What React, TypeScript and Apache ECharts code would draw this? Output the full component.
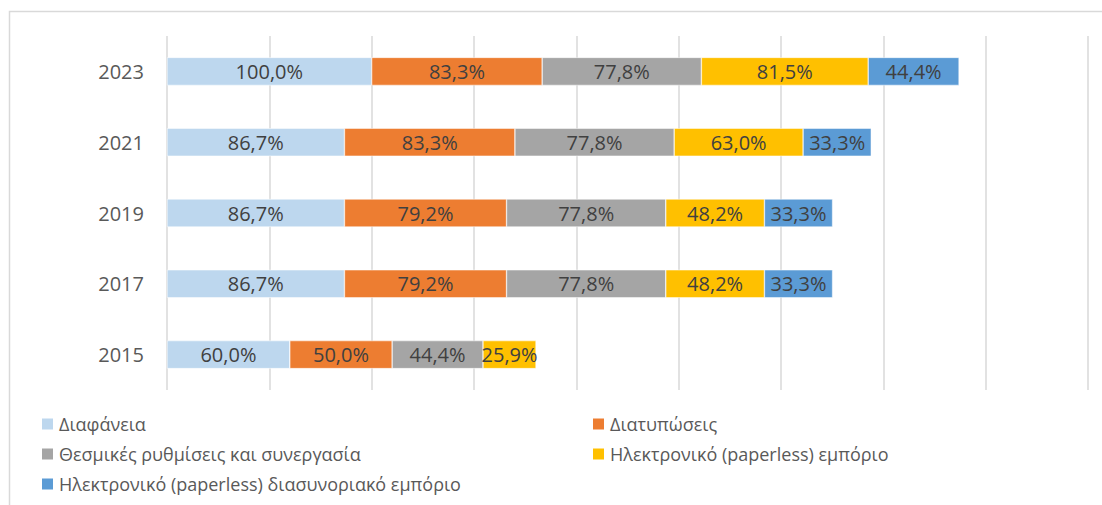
import React, { useEffect, useRef } from "react";
import * as echarts from "echarts";

const years = ["2015", "2017", "2019", "2021", "2023"];
const seriesNames = [
  "Διαφάνεια",
  "Διατυπώσεις",
  "Θεσμικές ρυθμίσεις και συνεργασία",
  "Ηλεκτρονικό (paperless) εμπόριο",
  "Ηλεκτρονικό (paperless) διασυνοριακό εμπόριο",
];
const transparency = [60.0, 86.7, 86.7, 86.7, 100.0];
const formalities = [50.0, 79.2, 79.2, 83.3, 83.3];
const institutional = [44.4, 77.8, 77.8, 77.8, 77.8];
const paperless = [25.9, 48.2, 48.2, 63.0, 81.5];
const crossBorder = [null, 33.3, 33.3, 33.3, 44.4];
const colors = ["#BDD7EE", "#ED7D31", "#A5A5A5", "#FFC000", "#5B9BD5"];

const FONT = "'Open Sans', sans-serif";

export default function App() {
  const ref = useRef<HTMLDivElement>(null);
  useEffect(() => {
    if (!ref.current) return;
    const chart = echarts.init(ref.current, undefined, { renderer: "svg" });
    const values = [transparency, formalities, institutional, paperless, crossBorder];
    const legendText = { color: "#595959", fontSize: 18, fontFamily: FONT, lineHeight: 20 };
    chart.setOption({
      animation: false,
      backgroundColor: "#ffffff",
      textStyle: { fontFamily: FONT },
      grid: { left: 167, right: 14, top: 36, bottom: 115 },
      xAxis: {
        type: "value",
        min: 0,
        max: 450,
        interval: 50,
        axisLabel: { show: false },
        axisLine: { show: false },
        axisTick: { show: false },
        splitLine: { show: true, lineStyle: { color: "#d9d9d9", width: 1.5 } },
      },
      yAxis: {
        type: "category",
        data: years,
        axisLine: { show: false },
        axisTick: { show: false },
        axisLabel: { color: "#595959", fontSize: 20, fontFamily: FONT, margin: 23 },
      },
      legend: [
        {
          left: 40,
          top: 414,
          padding: 0,
          orient: "vertical",
          itemWidth: 13,
          itemHeight: 13,
          itemGap: 10,
          icon: "rect",
          data: [seriesNames[0], seriesNames[2], seriesNames[4]],
          textStyle: legendText,
        },
        {
          left: 591,
          top: 414,
          padding: 0,
          orient: "vertical",
          itemWidth: 13,
          itemHeight: 13,
          itemGap: 10,
          icon: "rect",
          data: [seriesNames[1], seriesNames[3]],
          textStyle: legendText,
        },
      ],
      graphic: [
        {
          type: "rect",
          shape: { x: 9.5, y: 11.5, width: 1200, height: 600 },
          style: { fill: "none", stroke: "#d9d9d9", lineWidth: 1.5 },
          silent: true,
        },
      ],
      series: seriesNames.map((name, i) => ({
        name,
        type: "bar",
        stack: "total",
        barWidth: 28,
        data: values[i],
        itemStyle: { color: colors[i], borderColor: "#ffffff", borderWidth: 0.5 },
        label: {
          show: true,
          position: "inside",
          color: "#404040",
          fontSize: 20,
          fontFamily: FONT,
          formatter: (p: any) =>
            p.value == null ? "" : Number(p.value).toFixed(1).replace(".", ",") + "%",
        },
      })),
    });
    return () => chart.dispose();
  }, []);
  return (
    <div
      ref={ref}
      style={{ position: "fixed", left: 0, top: 0, width: 1102, height: 505 }}
    />
  );
}
